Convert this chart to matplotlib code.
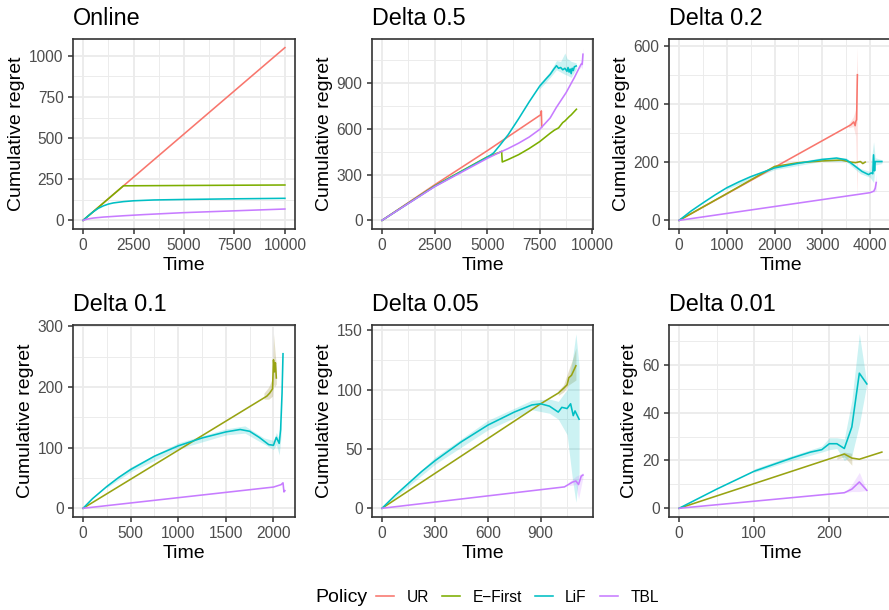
import matplotlib
matplotlib.use("Agg")
from matplotlib import pyplot as plt
from matplotlib.lines import Line2D
from matplotlib.ticker import MultipleLocator, FormatStrFormatter

plt.rcParams["font.family"] = ["Liberation Sans", "DejaVu Sans"]

POLICIES = ["UR", "E\u2212First", "LiF", "TBL"]
COLORS = ["#F8766D", "#7CAE00", "#00BFC4", "#C77CFF"]
# E-First line looks olive where its ribbon is drawn over it
EF_SHADED = "#98A312"
EF_BAND = "#A89A50"
TITLES = ["Online", "Delta 0.5", "Delta 0.2", "Delta 0.1", "Delta 0.05", "Delta 0.01"]
X_STEPS = [2500, 2500, 1000, 500, 300, 100]
Y_STEPS = [250, 300, 200, 100, 50, 20]

# --- Online
on_ur_t = [0, 10000]
on_ur = [0, 1050]
on_ef_t = [0, 2000, 5000, 10000]
on_ef = [0, 210, 212, 215]
on_lif_t = [0, 250, 500, 750, 1000, 1250, 1500, 2000, 2500, 3500, 5000, 7500, 10000]
on_lif = [0, 27, 52, 73, 88, 99, 106, 114, 119, 124, 127, 131, 134]
on_tbl_t = [0, 250, 500, 1000, 2000, 3000, 5000, 7500, 10000]
on_tbl = [0, 9, 14, 20, 28, 35, 47, 58, 69]

# --- Delta 0.5
d05_ur_t = [0, 2500, 5000, 7540, 7570, 7580, 7600]
d05_ur = [0, 232, 455, 690, 700, 716, 612]
d05_ur_bt = [7500, 7560, 7580, 7600]
d05_ur_lo = [680, 680, 690, 600]
d05_ur_hi = [700, 720, 740, 625]
d05_ef_t = [0, 2500, 5000, 5600, 5690, 5720, 6000, 6500, 7000, 7500, 8000,
            8200, 8400, 8600, 8700, 8900, 9000, 9250]
d05_ef = [0, 225, 415, 445, 452, 382, 398, 430, 470, 515, 570,
          590, 605, 640, 650, 678, 690, 727]
d05_lif_t = [0, 2500, 5000, 5300, 5600, 6000, 6500, 7000, 7500, 7800, 8000,
             8150, 8300, 8400, 8500, 8600, 8700, 8800, 8850, 8900, 8950, 9000,
             9050, 9100, 9150, 9240]
d05_lif = [0, 222, 412, 440, 490, 560, 665, 775, 878, 925, 955,
           985, 1012, 995, 1000, 985, 995, 975, 1000, 970, 990, 960,
           995, 980, 1005, 1010]
d05_lif_bt = [7500, 8000, 8300, 8500, 8700, 8800, 9000, 9240]
d05_lif_lo = [860, 935, 985, 970, 955, 950, 935, 990]
d05_lif_hi = [895, 975, 1045, 1040, 1095, 1060, 1040, 1030]
d05_tbl_t = [0, 2500, 5000, 5600, 6000, 6500, 7000, 7500, 8000, 8290, 8760,
             9150, 9390, 9470, 9520, 9540, 9560]
d05_tbl = [0, 220, 405, 445, 470, 505, 545, 595, 670, 738, 836,
           934, 1000, 1022, 1020, 1050, 1087]
d05_tbl_bt = [9400, 9470, 9520, 9560]
d05_tbl_lo = [990, 1005, 990, 1040]
d05_tbl_hi = [1010, 1040, 1060, 1130]

# --- Delta 0.2
d02_ur_t = [0, 3600, 3660, 3690, 3705, 3720, 3737]
d02_ur = [0, 328, 338, 325, 340, 345, 500]
d02_ur_bt = [3550, 3650, 3700, 3720, 3737]
d02_ur_lo = [318, 322, 290, 150, 80]
d02_ur_hi = [330, 355, 380, 520, 593]
d02_ef_t = [0, 1000, 2000, 2500, 3000, 3400, 3600, 3700, 3800, 3850, 3900]
d02_ef = [0, 92, 185, 198, 204, 207, 200, 198, 202, 195, 200]
d02_lif_t = [0, 250, 500, 750, 1000, 1250, 1500, 2000, 2500, 3000, 3300, 3500,
             3600, 3833, 3972, 4028, 4060, 4076, 4097, 4111, 4150, 4250]
d02_lif = [0, 32, 60, 87, 112, 132, 150, 180, 196, 209, 214, 208,
           197, 168, 157, 163, 160, 225, 170, 202, 202, 202]
d02_lif_bt = [1000, 2000, 3000, 3500, 3800, 4000, 4076, 4111, 4250]
d02_lif_lo = [107, 174, 203, 202, 160, 148, 130, 190, 195]
d02_lif_hi = [117, 186, 216, 215, 178, 168, 270, 215, 208]
d02_tbl_t = [0, 4000, 4080, 4110, 4132]
d02_tbl = [0, 95, 100, 110, 130]
d02_tbl_bt = [4080, 4110, 4132]
d02_tbl_lo = [95, 100, 100]
d02_tbl_hi = [105, 125, 160]

# --- Delta 0.1
d01_ef_t = [0, 1930, 1960, 1990, 2000, 2010, 2020, 2030]
d01_ef = [0, 185, 190, 197, 245, 225, 240, 215]
d01_ef_bt = [1900, 1950, 1990, 2000, 2010, 2030]
d01_ef_lo = [180, 180, 185, 205, 200, 205]
d01_ef_hi = [190, 200, 215, 288, 270, 235]
d01_lif_t = [0, 100, 250, 375, 500, 750, 1000, 1250, 1500, 1650, 1750, 1850,
             1950, 2000, 2030, 2060, 2075, 2090, 2100]
d01_lif = [0, 16, 36, 51, 64, 86, 103, 116, 126, 130, 127, 117,
           105, 104, 117, 107, 130, 190, 255]
d01_lif_bt = [250, 500, 1000, 1500, 1700, 1900, 2000, 2030, 2060, 2080, 2100]
d01_lif_lo = [34, 60, 98, 121, 124, 106, 97, 105, 88, 120, 250]
d01_lif_hi = [38, 68, 108, 131, 136, 116, 112, 125, 115, 140, 262]
d01_tbl_t = [0, 2000, 2080, 2100, 2110, 2120]
d01_tbl = [0, 35, 39, 42, 27, 29]

# --- Delta 0.05
d005_ef_t = [0, 900, 1000, 1030, 1050, 1060, 1075, 1100]
d005_ef = [0, 88, 97, 101, 104, 110, 112, 120]
d005_ef_bt = [1000, 1030, 1060, 1080, 1100]
d005_ef_lo = [95, 98, 104, 106, 108]
d005_ef_hi = [99, 104, 117, 125, 135]
d005_lif_t = [0, 75, 150, 225, 300, 450, 600, 750, 850, 900, 950, 1000, 1020,
              1050, 1070, 1085, 1095, 1118]
d005_lif = [0, 11, 21, 31, 40, 56, 70, 81, 87, 88, 86, 81, 85,
            84, 88, 78, 82, 75]
d005_lif_bt = [0, 300, 600, 850, 950, 1000, 1050, 1080, 1100, 1118]
d005_lif_lo = [0, 37, 66, 83, 80, 75, 62, 25, 5, 30]
d005_lif_hi = [0, 43, 74, 91, 92, 90, 100, 125, 147, 120]
d005_tbl_t = [0, 1035, 1080, 1100, 1115, 1130, 1140]
d005_tbl = [0, 18, 22, 23, 20, 27, 28]
d005_tbl_bt = [1060, 1100, 1115, 1140]
d005_tbl_lo = [19, 20, 8, 26]
d005_tbl_hi = [22, 27, 28, 30]

# --- Delta 0.01
d001_ef_t = [0, 220, 230, 240, 250, 270]
d001_ef = [0, 22.7, 21, 20.5, 21.5, 23.5]
d001_ef_bt = [210, 220, 230]
d001_ef_lo = [20.5, 21.5, 18]
d001_ef_hi = [21.5, 23.5, 23]
d001_lif_t = [0, 50, 100, 150, 175, 190, 200, 210, 220, 230, 240, 250]
d001_lif = [0, 8, 15.5, 21, 23.5, 24.5, 27, 27, 25, 34, 56.5, 52]
d001_lif_bt = [100, 150, 190, 200, 210, 220, 230, 240, 250]
d001_lif_lo = [15, 20, 23.5, 24.5, 25, 20, 22, 35, 52]
d001_lif_hi = [16.5, 22, 26, 29.5, 29.5, 29, 45, 73, 52]
d001_tbl_t = [0, 220, 230, 240, 250]
d001_tbl = [0, 6.5, 8, 11, 7.5]
d001_tbl_bt = [220, 230, 240, 250]
d001_tbl_lo = [6.5, 7, 7, 7.5]
d001_tbl_hi = [6.5, 10, 15, 7.5]

# lines[panel] -> list of (policy index, t, y)
lines = [
    [(0, on_ur_t, on_ur), (1, on_ef_t, on_ef), (2, on_lif_t, on_lif), (3, on_tbl_t, on_tbl)],
    [(0, d05_ur_t, d05_ur), (1, d05_ef_t, d05_ef), (2, d05_lif_t, d05_lif), (3, d05_tbl_t, d05_tbl)],
    [(0, d02_ur_t, d02_ur), (1, d02_ef_t, d02_ef), (2, d02_lif_t, d02_lif), (3, d02_tbl_t, d02_tbl)],
    [(1, d01_ef_t, d01_ef), (2, d01_lif_t, d01_lif), (3, d01_tbl_t, d01_tbl)],
    [(1, d005_ef_t, d005_ef), (2, d005_lif_t, d005_lif), (3, d005_tbl_t, d005_tbl)],
    [(1, d001_ef_t, d001_ef), (2, d001_lif_t, d001_lif), (3, d001_tbl_t, d001_tbl)],
]
bands = [
    [],
    [(0, d05_ur_bt, d05_ur_lo, d05_ur_hi), (2, d05_lif_bt, d05_lif_lo, d05_lif_hi),
     (3, d05_tbl_bt, d05_tbl_lo, d05_tbl_hi)],
    [(0, d02_ur_bt, d02_ur_lo, d02_ur_hi), (2, d02_lif_bt, d02_lif_lo, d02_lif_hi),
     (3, d02_tbl_bt, d02_tbl_lo, d02_tbl_hi)],
    [(1, d01_ef_bt, d01_ef_lo, d01_ef_hi), (2, d01_lif_bt, d01_lif_lo, d01_lif_hi)],
    [(1, d005_ef_bt, d005_ef_lo, d005_ef_hi), (2, d005_lif_bt, d005_lif_lo, d005_lif_hi),
     (3, d005_tbl_bt, d005_tbl_lo, d005_tbl_hi)],
    [(1, d001_ef_bt, d001_ef_lo, d001_ef_hi), (2, d001_lif_bt, d001_lif_lo, d001_lif_hi),
     (3, d001_tbl_bt, d001_tbl_lo, d001_tbl_hi)],
]

W, H = 889, 610
fig = plt.figure(figsize=(W / 100, H / 100), dpi=100)

# panel boxes in pixels: left, top, width, height
lefts = [73, 372, 669]
widths = [222, 221, 223]
tops = [39, 325]
heights = [190, 192]


def expand(vals):
    lo, hi = min(vals), max(vals)
    pad = (hi - lo) * 0.05
    return lo - pad, hi + pad


for i in range(6):
    r, c = divmod(i, 3)
    ax = fig.add_axes([lefts[c] / W, 1 - (tops[r] + heights[r]) / H,
                       widths[c] / W, heights[r] / H])
    xs, ys = [], []
    for p, t, lo, hi in bands[i]:
        fill = EF_BAND if p == 1 else COLORS[p]
        alpha = 0.3 if p == 1 else 0.2
        ax.fill_between(t, lo, hi, color=fill, alpha=alpha, lw=0, zorder=2)
        xs += t
        ys += lo + hi
    for p, t, y in lines[i]:
        col = EF_SHADED if (p == 1 and i >= 2) else COLORS[p]
        ax.plot(t, y, color=col, lw=1.15, zorder=3)
        xs += t
        ys += y
    ax.set_xlim(*expand(xs))
    ax.set_ylim(*expand(ys))
    ax.xaxis.set_major_locator(MultipleLocator(X_STEPS[i]))
    ax.xaxis.set_minor_locator(MultipleLocator(X_STEPS[i] / 2))
    ax.yaxis.set_major_locator(MultipleLocator(Y_STEPS[i]))
    ax.yaxis.set_minor_locator(MultipleLocator(Y_STEPS[i] / 2))
    ax.xaxis.set_major_formatter(FormatStrFormatter("%d"))
    ax.yaxis.set_major_formatter(FormatStrFormatter("%d"))
    ax.grid(which="major", color="#EBEBEB", lw=1.3, zorder=0)
    ax.grid(which="minor", color="#EBEBEB", lw=0.65, zorder=0)
    ax.set_axisbelow(True)
    for s in ax.spines.values():
        s.set_color("#333333")
        s.set_linewidth(1.2)
        s.set_zorder(5)
    ax.tick_params(which="major", length=3.5, width=1.1, color="#333333",
                   labelcolor="#4D4D4D", labelsize=11.2, pad=3.3)
    ax.tick_params(which="minor", length=0)
    ax.set_xlabel("Time", fontsize=14, labelpad=2.5)
    ax.set_ylabel("Cumulative regret", fontsize=14, labelpad=3)
    ax.set_title(TITLES[i], loc="left", fontsize=16.8, pad=10)

handles = [Line2D([], [], color=col, lw=1.15) for col in COLORS]
fig.text(315 / W, 1 - 597 / H, "Policy", fontsize=14, va="center", ha="left")
fig.legend(handles, POLICIES, loc="center left", bbox_to_anchor=(376 / W, 1 - 597 / H),
           ncol=4, frameon=False, fontsize=11.2, handlelength=1.15,
           handletextpad=0.8, columnspacing=0.85, borderpad=0, borderaxespad=0)

fig.savefig("out.png", dpi=100)
